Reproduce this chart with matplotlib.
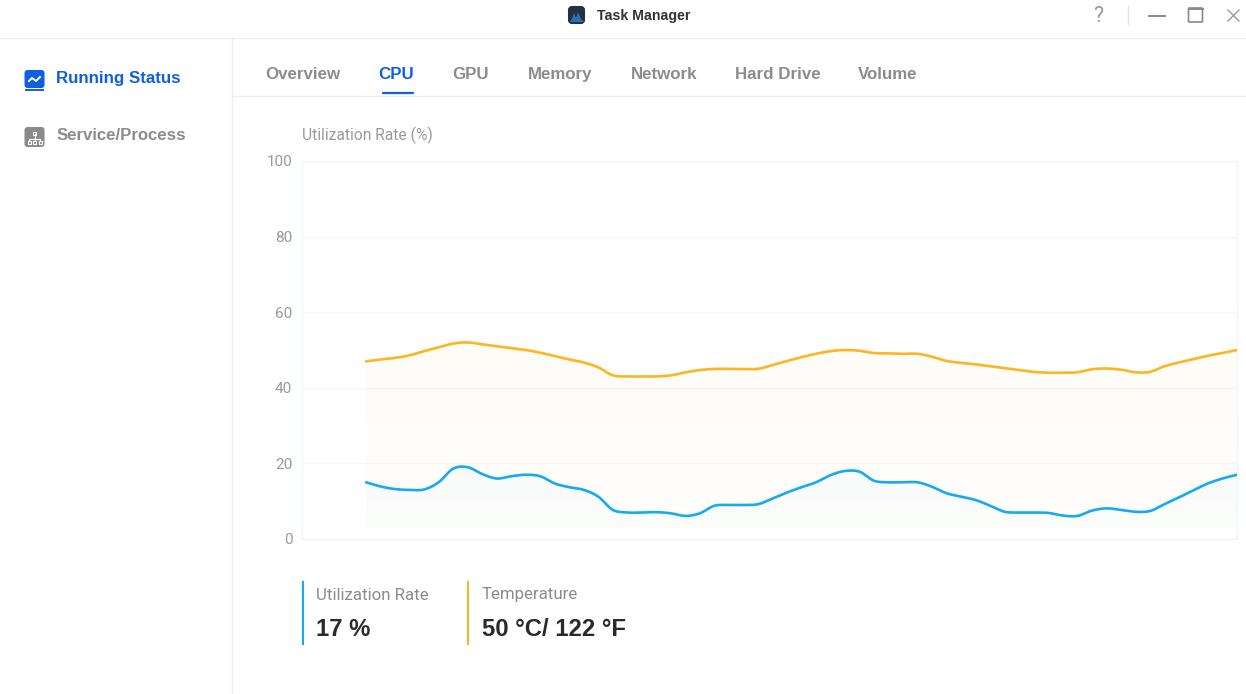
import matplotlib
matplotlib.use("Agg")
import matplotlib.pyplot as plt
import numpy as np
from matplotlib.patches import FancyBboxPatch, Polygon, Rectangle

# values
tabs = ["Overview", "CPU", "GPU", "Memory", "Network", "Hard Drive", "Volume"]
tab_x = [265.5, 378.5, 452.5, 527.5, 630.5, 735, 858]
y_ticks = [0, 20, 40, 60, 80, 100]
utilization = [15, 13.9, 13.2, 13, 13.1, 15, 18.6, 19, 17.2, 16, 16.6, 17, 16.6, 14.7, 13.7,
               13, 11.2, 7.7, 7, 7, 7.1, 6.8, 6.1, 6.8, 8.8, 9, 9, 9.2, 10.7, 12.3,
               13.7, 15, 16.9, 18, 17.8, 15.4, 15, 15, 15, 13.8, 12.1, 11.2, 10.3, 8.8, 7.2,
               7, 7, 6.9, 6.2, 6.1, 7.5, 8.1, 7.7, 7.2, 7.4, 9.2, 11, 12.9, 14.7, 16, 17]
temperature = [47, 47.5, 47.9, 48.6, 49.7, 50.7, 51.7, 52, 51.5, 51, 50.5, 50, 49.3, 48.4, 47.5,
               46.7, 45.4, 43.3, 43, 43, 43, 43.3, 44.1, 44.7, 45, 45, 45, 45, 46, 47.1,
               48.1, 49, 49.7, 50, 49.8, 49.2, 49.1, 49, 49, 48.2, 47.1, 46.6, 46.2, 45.7, 45.2,
               44.7, 44.2, 44, 44, 44.1, 44.9, 45.1, 44.8, 44.1, 44.2, 45.7, 46.7, 47.6, 48.5, 49.2, 50]
samples = np.arange(len(utilization))

BLUE = "#17a9f2"
ORANGE = "#fdb521"
GREY = "#8c8c8c"
LINE = "#eeeeee"
W, H = 1246, 694

plt.rcParams["font.family"] = ["Liberation Sans", "DejaVu Sans"]


def smooth(x, y, n=8):
    # Catmull-Rom curve through the read values, like the rounded chart line
    p = np.column_stack([x, y]).astype(float)
    p = np.vstack([p[0], p, p[-1]])
    out = []
    for i in range(1, len(p) - 2):
        t = np.linspace(0, 1, n, endpoint=False)[:, None]
        a, b, c, d = p[i - 1], p[i], p[i + 1], p[i + 2]
        out.append(0.5 * (2 * b + (c - a) * t + (2 * a - 5 * b + 4 * c - d) * t ** 2
                          + (3 * b - a - 3 * c + d) * t ** 3))
    out.append(p[-2][None])
    return np.vstack(out)


def draw_series(ax, values, color, base=3, alpha=0.05):
    curve = smooth(samples, values)
    poly = Polygon(np.vstack([curve, [samples[-1], base], [samples[0], base]]),
                   closed=True, fc="none", ec="none")
    ax.add_patch(poly)
    # vertical fade under the line
    rgba = np.zeros((64, 2, 4))
    rgba[..., :3] = matplotlib.colors.to_rgb(color)
    rgba[..., 3] = np.linspace(alpha, alpha * 0.35, 64)[:, None]
    im = ax.imshow(rgba, extent=[samples[0], samples[-1], base, max(values)], origin="upper",
                   aspect="auto", zorder=2, interpolation="bilinear")
    im.set_clip_path(poly)
    ax.plot(curve[:, 0], curve[:, 1], color=color, lw=1.9, zorder=3, solid_capstyle="round")


fig = plt.figure(figsize=(W / 100, H / 100), dpi=100, facecolor="white")

# chart area
ax = fig.add_axes([302 / W, 1 - 539 / H, (1237 - 302) / W, (539 - 161) / H])
draw_series(ax, temperature, ORANGE, alpha=0.038)
draw_series(ax, utilization, BLUE, alpha=0.03)
ax.set_xlim(-4.41, 60)
ax.set_ylim(0, 100)
ax.set_xticks([])
ax.set_yticks(y_ticks)
ax.tick_params(axis="y", length=0, pad=7, labelsize=11, labelcolor="#999999")
for lab in ax.get_yticklabels():
    lab.set_fontfamily(["Roboto", "DejaVu Sans"])
ax.grid(axis="y", color="#f3f9fd", lw=1)
ax.set_axisbelow(True)
for s in ax.spines.values():
    s.set_color("#edf6fc")
    s.set_linewidth(1)

# window frame and everything around the chart, in pixel coordinates
ui = fig.add_axes([0, 0, 1, 1], zorder=5)
ui.set_xlim(0, W)
ui.set_ylim(H, 0)
ui.axis("off")
ui.patch.set_alpha(0)

ui.plot([0, W], [38, 38], color=LINE, lw=1)
ui.plot([232, 232], [38, H], color=LINE, lw=1)
ui.plot([233, W], [96, 96], color=LINE, lw=1)

# title bar
ui.add_patch(FancyBboxPatch((569, 7), 15, 16, boxstyle="round,pad=0,rounding_size=3",
                            fc="#263044", ec="#263044", lw=1.5))
ui.add_patch(Polygon([(570, 22), (572, 19), (574, 13), (576, 18), (578, 12), (581, 19), (584, 22)],
                     fc="#2f6db5", ec="none"))
ui.text(597, 16, "Task Manager", fontsize=10.2, fontweight="bold", color="#333333",
        va="center", ha="left")
ui.text(1098, 16, "?", fontsize=15.5, color="#9a9a9a", va="center", ha="center",
        fontfamily=["Roboto", "DejaVu Sans"])
ui.plot([1127.5, 1127.5], [6, 24], color="#e3e3e3", lw=1)
ui.plot([1149, 1165], [15.5, 15.5], color="#888888", lw=1.4)
ui.add_patch(FancyBboxPatch((1188.5, 8), 14, 14, boxstyle="round,pad=0,rounding_size=1",
                            fc="none", ec="#888888", lw=1.2))
ui.plot([1188.5, 1202.5], [9.2, 9.2], color="#888888", lw=1.4)
ui.plot([1228, 1239], [10, 21], color="#9a9a9a", lw=1)
ui.plot([1228, 1239], [21, 10], color="#9a9a9a", lw=1)

# sidebar
ui.add_patch(FancyBboxPatch((24.5, 70), 20, 18, boxstyle="round,pad=0,rounding_size=3",
                            fc="#0f5fe0", ec="none"))
ui.plot([26, 43], [89.5, 89.5], color="#0f5fe0", lw=1.4)
ui.plot([29, 32, 36, 40], [81, 78, 81, 77], color="white", lw=1.4)
ui.text(56, 78, "Running Status", fontsize=12.15, fontweight="bold", color="#0f5fe0",
        va="center", ha="left")
ui.add_patch(FancyBboxPatch((24.5, 127), 20, 20, boxstyle="round,pad=0,rounding_size=3",
                            fc="#8a8a8a", ec="none"))
ui.plot([34.5, 34.5], [134, 141], color="white", lw=0.8)
ui.plot([29, 29, 40, 40], [141, 138.5, 138.5, 141], color="white", lw=0.8)
ui.add_patch(Rectangle((33, 131.5), 3, 3, fc="none", ec="white", lw=0.8))
for bx in [27.5, 33, 38.5]:
    ui.add_patch(Rectangle((bx, 141), 3, 3, fc="none", ec="white", lw=0.8))
ui.text(57, 135, "Service/Process", fontsize=12.1, fontweight="bold", color=GREY,
        va="center", ha="left")

# tabs
for name, x in zip(tabs, tab_x):
    active = name == "CPU"
    ui.text(x, 74, name, fontsize=12.15, fontweight="bold", color="#0f5fe0" if active else GREY,
            va="center", ha="left")
ui.plot([383, 413], [93, 93], color="#0f5fe0", lw=1.6, solid_capstyle="round")

# axis title and the readout under the chart
ui.text(302, 135.5, "Utilization Rate (%)", fontsize=11.25, color="#999999", va="center", ha="left",
        fontfamily=["Roboto", "DejaVu Sans"])
ui.plot([303, 303], [582, 644], color=BLUE, lw=1.5)
ui.text(316, 595, "Utilization Rate", fontsize=12.2, color=GREY, va="center", ha="left",
        fontfamily=["Roboto", "DejaVu Sans"])
ui.text(316, 629, "17 %", fontsize=17.2, fontweight="bold", color="#2a2a2a", va="center", ha="left")
ui.plot([468, 468], [582, 644], color="#f0b72f", lw=1.5)
ui.text(482, 595, "Temperature", fontsize=12.2, color=GREY, va="center", ha="left",
        fontfamily=["Roboto", "DejaVu Sans"])
ui.text(482, 629, "50 °C/ 122 °F", fontsize=17.2, fontweight="bold", color="#2a2a2a",
        va="center", ha="left")

fig.savefig("out.png", dpi=100, facecolor="white")
